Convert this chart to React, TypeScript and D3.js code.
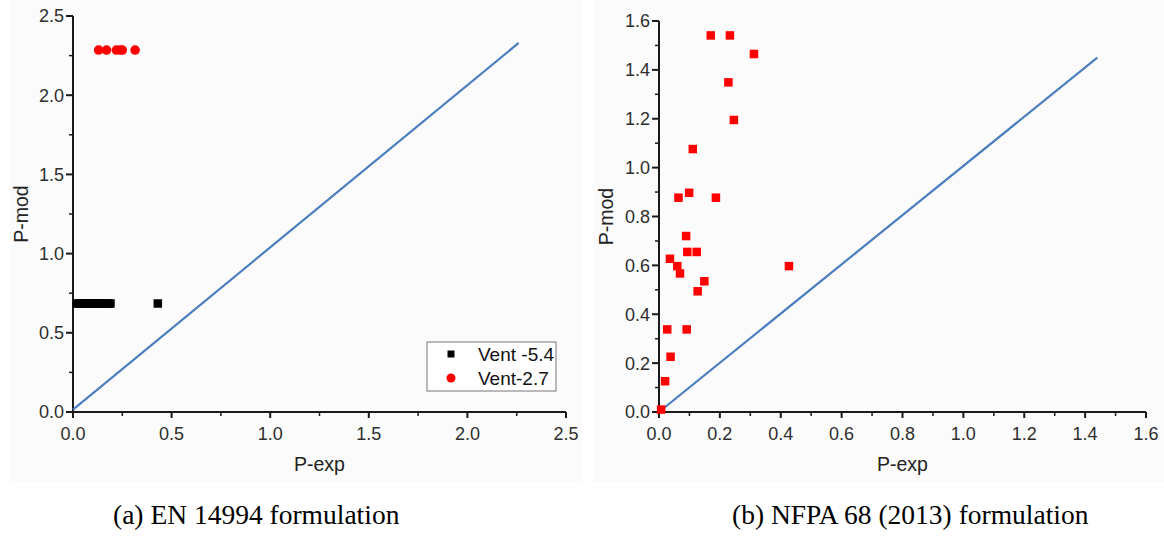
import React from "react";
import * as d3 from "d3";

// ---------- Data ----------
// Panel (a): EN 14994 formulation
const ventA_label = "Vent -5.4";
const ventA_x = [0.02, 0.03, 0.04, 0.05, 0.06, 0.07, 0.08, 0.09, 0.1, 0.11, 0.12, 0.13, 0.14, 0.15, 0.16, 0.17, 0.18, 0.19, 0.43];
const ventA_y = [0.685, 0.685, 0.685, 0.685, 0.685, 0.685, 0.685, 0.685, 0.685, 0.685, 0.685, 0.685, 0.685, 0.685, 0.685, 0.685, 0.685, 0.685, 0.685];
const ventB_label = "Vent-2.7";
const ventB_x = [0.13, 0.17, 0.22, 0.24, 0.25, 0.315];
const ventB_y = [2.285, 2.285, 2.285, 2.285, 2.285, 2.285];
const lineA_x = [0, 2.26];
const lineA_y = [0.015, 2.33];
const ticksA_x = [0, 0.5, 1.0, 1.5, 2.0, 2.5];
const ticksA_y = [0, 0.5, 1.0, 1.5, 2.0, 2.5];

// Panel (b): NFPA 68 (2013) formulation
const nfpa_x = [0.170, 0.233, 0.312, 0.228, 0.246, 0.111, 0.064, 0.099, 0.187, 0.089, 0.093, 0.124, 0.036, 0.060, 0.069, 0.149, 0.127, 0.427, 0.027, 0.091, 0.038, 0.020, 0.007];
const nfpa_y = [1.541, 1.541, 1.465, 1.349, 1.195, 1.076, 0.877, 0.897, 0.877, 0.720, 0.655, 0.655, 0.627, 0.597, 0.567, 0.535, 0.494, 0.597, 0.338, 0.338, 0.226, 0.126, 0.010];
const lineB_x = [0, 1.44];
const lineB_y = [0, 1.45];
const ticksB_x = [0, 0.2, 0.4, 0.6, 0.8, 1.0, 1.2, 1.4, 1.6];
const ticksB_y = [0, 0.2, 0.4, 0.6, 0.8, 1.0, 1.2, 1.4, 1.6];

const captionA = "(a) EN 14994 formulation";
const captionB = "(b) NFPA 68 (2013) formulation";

const SANS = "'Liberation Sans', Arial, sans-serif";
const SERIF = "'Liberation Serif', 'Times New Roman', serif";
const BLUE = "#4a7ebf";
const RED = "#ff0000";
const AXIS = "#1a1a1a";
const LABEL = "#2e2e2e";

type AxesProps = {
  x: d3.ScaleLinear<number, number>;
  y: d3.ScaleLinear<number, number>;
  xTicks: number[];
  yTicks: number[];
  xMinor: number[];
  yMinor: number[];
  fmt: (v: number) => string;
};

function Axes({ x, y, xTicks, yTicks, xMinor, yMinor, fmt }: AxesProps) {
  const [x0, x1] = x.range();
  const [y0, y1] = y.range();
  return (
    <g>
      <line x1={x0} x2={x1} y1={y0} y2={y0} stroke={AXIS} strokeWidth={2} />
      <line x1={x0} x2={x0} y1={y0} y2={y1} stroke={AXIS} strokeWidth={2} />
      {xTicks.map((t) => (
        <g key={"xt" + t}>
          <line x1={x(t)} x2={x(t)} y1={y0} y2={y0 + 6} stroke={AXIS} strokeWidth={2} />
          <text x={x(t)} y={y0 + 28} textAnchor="middle" fontFamily={SANS} fontSize={18} fill={LABEL}>
            {fmt(t)}
          </text>
        </g>
      ))}
      {xMinor.map((t) => (
        <line key={"xm" + t} x1={x(t)} x2={x(t)} y1={y0} y2={y0 + 4} stroke={AXIS} strokeWidth={1.5} />
      ))}
      {yTicks.map((t) => (
        <g key={"yt" + t}>
          <line x1={x0 - 7} x2={x0} y1={y(t)} y2={y(t)} stroke={AXIS} strokeWidth={2} />
          <text x={x0 - 9} y={y(t)} dy="0.36em" textAnchor="end" fontFamily={SANS} fontSize={18} fill={LABEL}>
            {fmt(t)}
          </text>
        </g>
      ))}
      {yMinor.map((t) => (
        <line key={"ym" + t} x1={x0 - 4} x2={x0} y1={y(t)} y2={y(t)} stroke={AXIS} strokeWidth={1.5} />
      ))}
    </g>
  );
}

function mids(ticks: number[]) {
  const out: number[] = [];
  for (let i = 0; i < ticks.length - 1; i++) out.push((ticks[i] + ticks[i + 1]) / 2);
  return out;
}

export default function App() {
  const xA = d3.scaleLinear().domain([0, 2.5]).range([73, 566]);
  const yA = d3.scaleLinear().domain([0, 2.5]).range([412, 16]);
  const xB = d3.scaleLinear().domain([0, 1.6]).range([659, 1146]);
  const yB = d3.scaleLinear().domain([0, 1.6]).range([412, 21]);

  const fmtA = d3.format(".1f");
  const lineGen = (xs: number[], ys: number[], sx: any, sy: any) =>
    d3.line<number>().x((_, i) => sx(xs[i])).y((_, i) => sy(ys[i]))(xs) || "";

  const sq = 8.5;
  const sqB = 8.5;

  const legX = 427, legY = 342, legW = 129, legH = 49;

  return (
    <svg width={1164} height={544} style={{ position: "absolute", left: 0, top: 0, background: "#fff" }}>
      <rect x={0} y={0} width={1164} height={544} fill="#fff" />
      <rect x={10} y={0} width={572} height={482} fill="#fbfbfb" />
      <rect x={593} y={0} width={571} height={482} fill="#fbfbfb" />

      {/* Panel A */}
      <Axes x={xA} y={yA} xTicks={ticksA_x} yTicks={ticksA_y} xMinor={mids(ticksA_x)} yMinor={mids(ticksA_y)} fmt={fmtA} />
      <path d={lineGen(lineA_x, lineA_y, xA, yA)} stroke={BLUE} strokeWidth={2.2} fill="none" />
      {ventA_x.map((v, i) => (
        <rect key={"a" + i} x={xA(v) - sq / 2} y={yA(ventA_y[i]) - sq / 2} width={sq} height={sq} fill="#000" />
      ))}
      {ventB_x.map((v, i) => (
        <circle key={"b" + i} cx={xA(v)} cy={yA(ventB_y[i])} r={4.8} fill={RED} />
      ))}
      <text
        transform={`translate(28,${(yA.range()[0] + yA.range()[1]) / 2}) rotate(-90)`}
        textAnchor="middle"
        fontFamily={SANS}
        fontSize={19.5}
        fill="#222"
      >
        P-mod
      </text>
      <text x={(xA.range()[0] + xA.range()[1]) / 2} y={471} textAnchor="middle" fontFamily={SANS} fontSize={19.5} fill="#222">
        P-exp
      </text>
      {/* Legend */}
      <rect x={legX} y={legY} width={legW} height={legH} fill="#fff" stroke="#777" strokeWidth={1} />
      <rect x={451 - 3.5} y={354 - 3.5} width={7} height={7} fill="#000" />
      <text x={478} y={361} fontFamily={SANS} fontSize={19} fill="#111">{ventA_label}</text>
      <circle cx={451} cy={378} r={4.5} fill={RED} />
      <text x={478} y={385} fontFamily={SANS} fontSize={19} fill="#111">{ventB_label}</text>

      {/* Panel B */}
      <Axes x={xB} y={yB} xTicks={ticksB_x} yTicks={ticksB_y} xMinor={mids(ticksB_x)} yMinor={mids(ticksB_y)} fmt={fmtA} />
      <path d={lineGen(lineB_x, lineB_y, xB, yB)} stroke={BLUE} strokeWidth={2.2} fill="none" />
      {nfpa_x.map((v, i) => (
        <rect key={"n" + i} x={xB(v) - sqB / 2} y={yB(nfpa_y[i]) - sqB / 2} width={sqB} height={sqB} fill={RED} />
      ))}
      <text
        transform={`translate(613,${(yB.range()[0] + yB.range()[1]) / 2}) rotate(-90)`}
        textAnchor="middle"
        fontFamily={SANS}
        fontSize={19.5}
        fill="#222"
      >
        P-mod
      </text>
      <text x={(xB.range()[0] + xB.range()[1]) / 2} y={471} textAnchor="middle" fontFamily={SANS} fontSize={19.5} fill="#222">
        P-exp
      </text>

      {/* Captions */}
      <text x={113} y={524} fontFamily={SERIF} fontSize={27.5} fill="#000">{captionA}</text>
      <text x={732} y={524} fontFamily={SERIF} fontSize={27.5} fill="#000">{captionB}</text>
    </svg>
  );
}
